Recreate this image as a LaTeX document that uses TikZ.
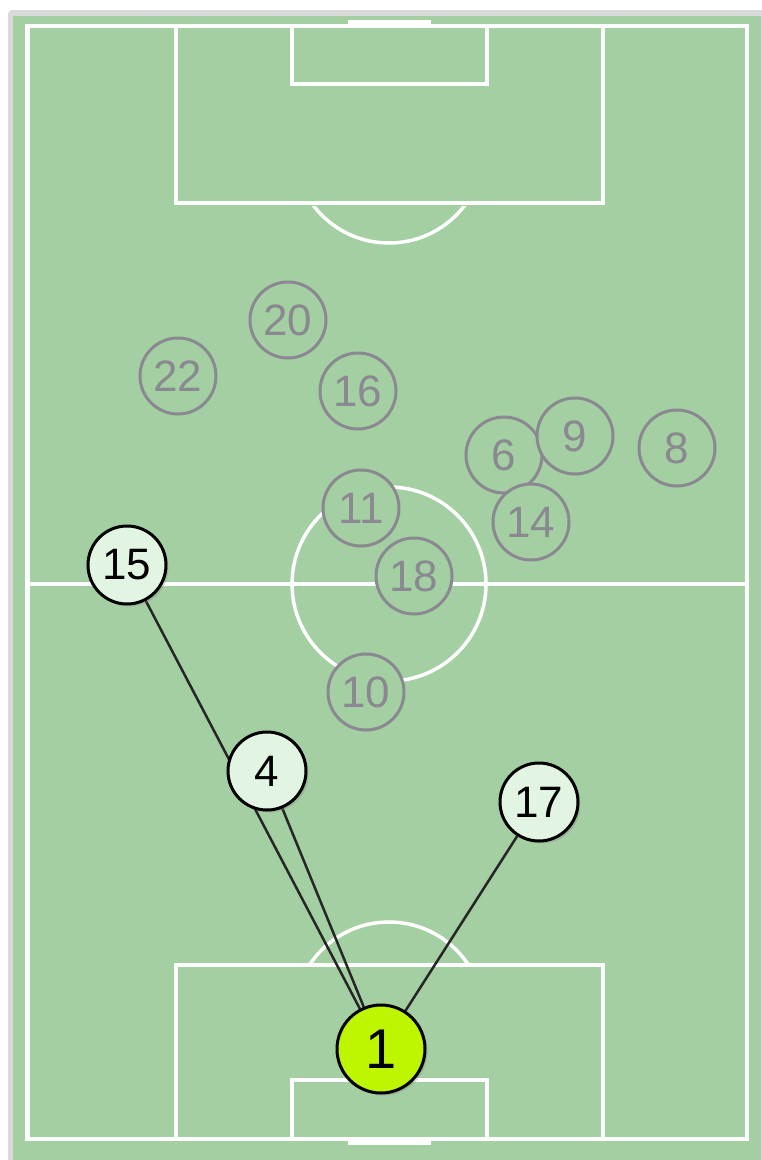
\documentclass[tikz,border=0pt]{standalone}
\usepackage{fontspec}
\setmainfont{Liberation Sans}
\usetikzlibrary{shadows}
\definecolor{pitch}{RGB}{164,207,162}
\definecolor{frame}{RGB}{217,217,217}
\definecolor{lime}{RGB}{190,245,0}
\definecolor{mint}{RGB}{226,244,226}
\definecolor{awaygrey}{RGB}{138,136,144}
\pgfdeclarelayer{field}
\pgfdeclarelayer{links}
\pgfsetlayers{field,links,main}

\begin{document}
\begin{tikzpicture}[
    x=1pt, y=-1pt,
    line/.style={white, line width=4.5pt},
    arcline/.style={white, line width=3.5pt},
    home/.style={circle, draw=black, line width=3pt, fill=#1, minimum size=78pt,
                 inner sep=0pt, font=\fontsize{44}{44}\selectfont,
                 drop shadow={shadow xshift=2.5pt, shadow yshift=-2.5pt, opacity=0.3}},
    away/.style={circle, draw=awaygrey, line width=3pt, fill=pitch, text=awaygrey,
                 minimum size=76pt, inner sep=0pt, font=\fontsize{44}{44}\selectfont},
    link/.style={line width=2.5pt, black!85},
]
\useasboundingbox (0,0) rectangle (761,1160);

% pitch
\begin{pgfonlayer}{field}
\fill[white] (0,0) rectangle (761,1160);
\fill[frame, rounded corners=4pt] (8,10) rectangle (775,1175);
\fill[pitch] (13,16) rectangle (761,1160);
\draw[line] (27.5,26) rectangle (747,1139);
\draw[line] (27.5,584) -- (747,584);
\draw[arcline] (389,584) circle[radius=97pt];
\draw[line] (176,26) rectangle (603,203);
\draw[line] (292,26) rectangle (487,84);
\draw[line] (176,1139) rectangle (603,965);
\draw[line] (292,1139) rectangle (487,1080);
\fill[white] (348,20) rectangle (431,24);
\fill[white] (348,1141) rectangle (431,1145);
\begin{scope}
  \clip (0,206) rectangle (761,300);
  \draw[arcline] (389,148) circle[radius=95pt];
\end{scope}
\begin{scope}
  \clip (0,860) rectangle (761,962);
  \draw[arcline] (389,1017) circle[radius=95pt];
\end{scope}
\end{pgfonlayer}

% opponents
\foreach \n/\x/\y in {20/288/320, 22/178/376, 16/358/391, 6/504/455, 9/575/436,
                      8/677/448, 14/531/522, 11/361/508, 18/414/576, 10/366/692} {
    \node[away] (a\n) at (\x,\y) {\n};
}

% team
\node[home=lime, minimum size=88pt, font=\fontsize{56}{56}\selectfont] (p1) at (381,1049) {1};
\node[home=mint] (p4)  at (267,771) {4};
\node[home=mint] (p15) at (127,565) {15};
\node[home=mint] (p17) at (539,802) {17};

\begin{pgfonlayer}{links}
\draw[link] (p15) -- (p1);
\draw[link] (p4)  -- (p1);
\draw[link] (p17) -- (p1);
\end{pgfonlayer}
\end{tikzpicture}
\end{document}
